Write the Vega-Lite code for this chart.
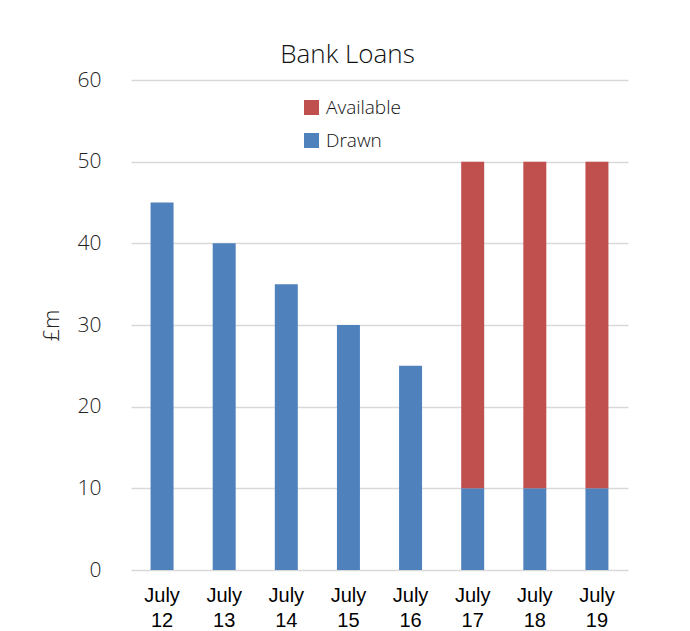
{
  "$schema": "https://vega.github.io/schema/vega-lite/v6.json",
  "autosize": {"type": "none"},
  "padding": {"left": 131, "top": 80, "right": 62, "bottom": 61},
  "width": 497,
  "height": 490,
  "background": "white",
  "title": {
    "text": "Bank Loans",
    "font": "Open Sans",
    "fontWeight": 300,
    "fontSize": 26,
    "color": "#111111",
    "anchor": "middle",
    "dx": -32,
    "offset": 1
  },
  "data": {
    "values": [
      {"period": "July 12", "series": "Drawn", "value": 45},
      {"period": "July 13", "series": "Drawn", "value": 40},
      {"period": "July 14", "series": "Drawn", "value": 35},
      {"period": "July 15", "series": "Drawn", "value": 30},
      {"period": "July 16", "series": "Drawn", "value": 25},
      {"period": "July 17", "series": "Drawn", "value": 10},
      {"period": "July 18", "series": "Drawn", "value": 10},
      {"period": "July 19", "series": "Drawn", "value": 10},
      {"period": "July 17", "series": "Available", "value": 40},
      {"period": "July 18", "series": "Available", "value": 40},
      {"period": "July 19", "series": "Available", "value": 40}
    ]
  },
  "mark": {"type": "bar"},
  "encoding": {
    "x": {
      "field": "period",
      "type": "nominal",
      "sort": null,
      "scale": {"paddingInner": 0.63, "paddingOuter": 0.315},
      "axis": {
        "title": null,
        "labelAngle": 0,
        "labelExpr": "split(datum.label, ' ')",
        "labelFont": "Liberation Sans",
        "labelFontSize": 20,
        "labelColor": "#000000",
        "labelLineHeight": 25,
        "labelPadding": 15,
        "ticks": false,
        "domain": false,
        "grid": false
      }
    },
    "y": {
      "field": "value",
      "type": "quantitative",
      "stack": "zero",
      "scale": {"domain": [0, 60], "nice": false},
      "axis": {
        "title": "£m",
        "titleFont": "Open Sans",
        "titleFontWeight": 300,
        "titleFontSize": 22,
        "titleColor": "#222222",
        "titlePadding": 14,
        "values": [0, 10, 20, 30, 40, 50, 60],
        "labelFont": "Open Sans",
        "labelFontWeight": 300,
        "labelFontSize": 21,
        "labelColor": "#222222",
        "labelPadding": 30,
        "ticks": false,
        "domain": false,
        "grid": true,
        "gridColor": "#d9d9d9",
        "gridWidth": 1.5
      }
    },
    "color": {
      "field": "series",
      "type": "nominal",
      "scale": {"domain": ["Available", "Drawn"], "range": ["#C0504D", "#4F81BD"]},
      "legend": {
        "title": null,
        "orient": "none",
        "legendX": 171,
        "legendY": 18,
        "symbolType": "square",
        "symbolSize": 225,
        "symbolStrokeWidth": 0,
        "labelFont": "Open Sans",
        "labelFontWeight": 300,
        "labelFontSize": 19,
        "labelColor": "#111111",
        "labelOffset": 5,
        "rowPadding": 13
      }
    },
    "order": {"field": "series", "sort": "descending"}
  },
  "config": {"view": {"stroke": null}}
}
